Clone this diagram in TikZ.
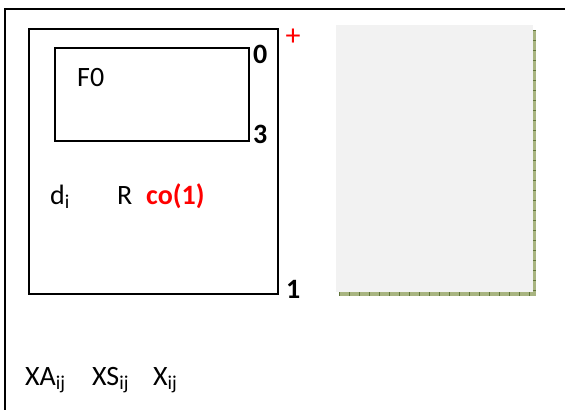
\documentclass[tikz,border=0pt]{standalone}
\usepackage{fontspec}
\setmainfont{Carlito}
\usepackage{tikz}
\usetikzlibrary{positioning}
\tikzset{
  frame line/.style = {line width=2pt},
  box/.style        = {draw, line width=1.6pt},
  lbl/.style        = {font=\fontsize{28}{32}\selectfont, inner sep=0pt},
  mark lbl/.style   = {font=\fontsize{28}{32}\selectfont\bfseries, inner sep=0pt},
  page/.style       = {fill=pagegray, draw=none},
  shadow/.style     = {fill=shadowgreen, draw=none},
  tick/.style       = {draw=tickgreen, line width=0.8pt},
}
\definecolor{pagegray}{RGB}{242,242,242}
\definecolor{shadowgreen}{RGB}{168,180,128}
\definecolor{tickgreen}{RGB}{96,116,58}
\definecolor{markred}{RGB}{255,0,0}

\begin{document}
\begin{tikzpicture}[x=1pt,y=-1pt]
  \useasboundingbox (0,0) rectangle (565,410);

  % ---------------- outer frame -------------------------------------------
  \draw[frame line] (565,9) -- (5,9) -- (5,410);

  % ---------------- boxes --------------------------------------------------
  \draw[box] (29,29) rectangle (278,294);
  \draw[box] (55,48) rectangle (249,141);

  \node[lbl,anchor=base west] (f0) at (77,86) {F0};
  \node[mark lbl,anchor=base west] (top) at (253,63) {0};
  \node[mark lbl,anchor=base west] (mid) at (253,143) {3};
  \node[mark lbl,anchor=base west] (bot) at (286,298) {1};
  \node[font=\fontsize{30}{34}\selectfont,inner sep=0pt,text=markred] (plus) at (293,37) {+};

  \node[lbl,anchor=base west] (di) at (50,204) {d\textsubscript{i}};
  \node[lbl,anchor=base west] (r) at (117,204) {R};
  \node[mark lbl,text=markred,anchor=base west] (co) at (146,204) {co(1)};

  % ---------------- page with shadow ---------------------------------------
  \fill[shadow] (339,292) rectangle (536,296);
  \fill[shadow] (533,30) rectangle (536,296);
  \foreach \i in {0,...,19}
    \draw[tick] (339+\i*10,292) -- (339+\i*10,296);
  \foreach \i in {0,...,26}
    \draw[tick] (533,30+\i*10) -- (536,30+\i*10);
  \fill[page] (336,25) rectangle (533,292);

  % ---------------- variables ----------------------------------------------
  \node[lbl,anchor=base west] (xa) at (25,385) {XA\textsubscript{ij}};
  \node[lbl,anchor=base west] (xs) at (92,385) {XS\textsubscript{ij}};
  \node[lbl,anchor=base west] (x) at (153,385) {X\textsubscript{ij}};
\end{tikzpicture}
\end{document}
